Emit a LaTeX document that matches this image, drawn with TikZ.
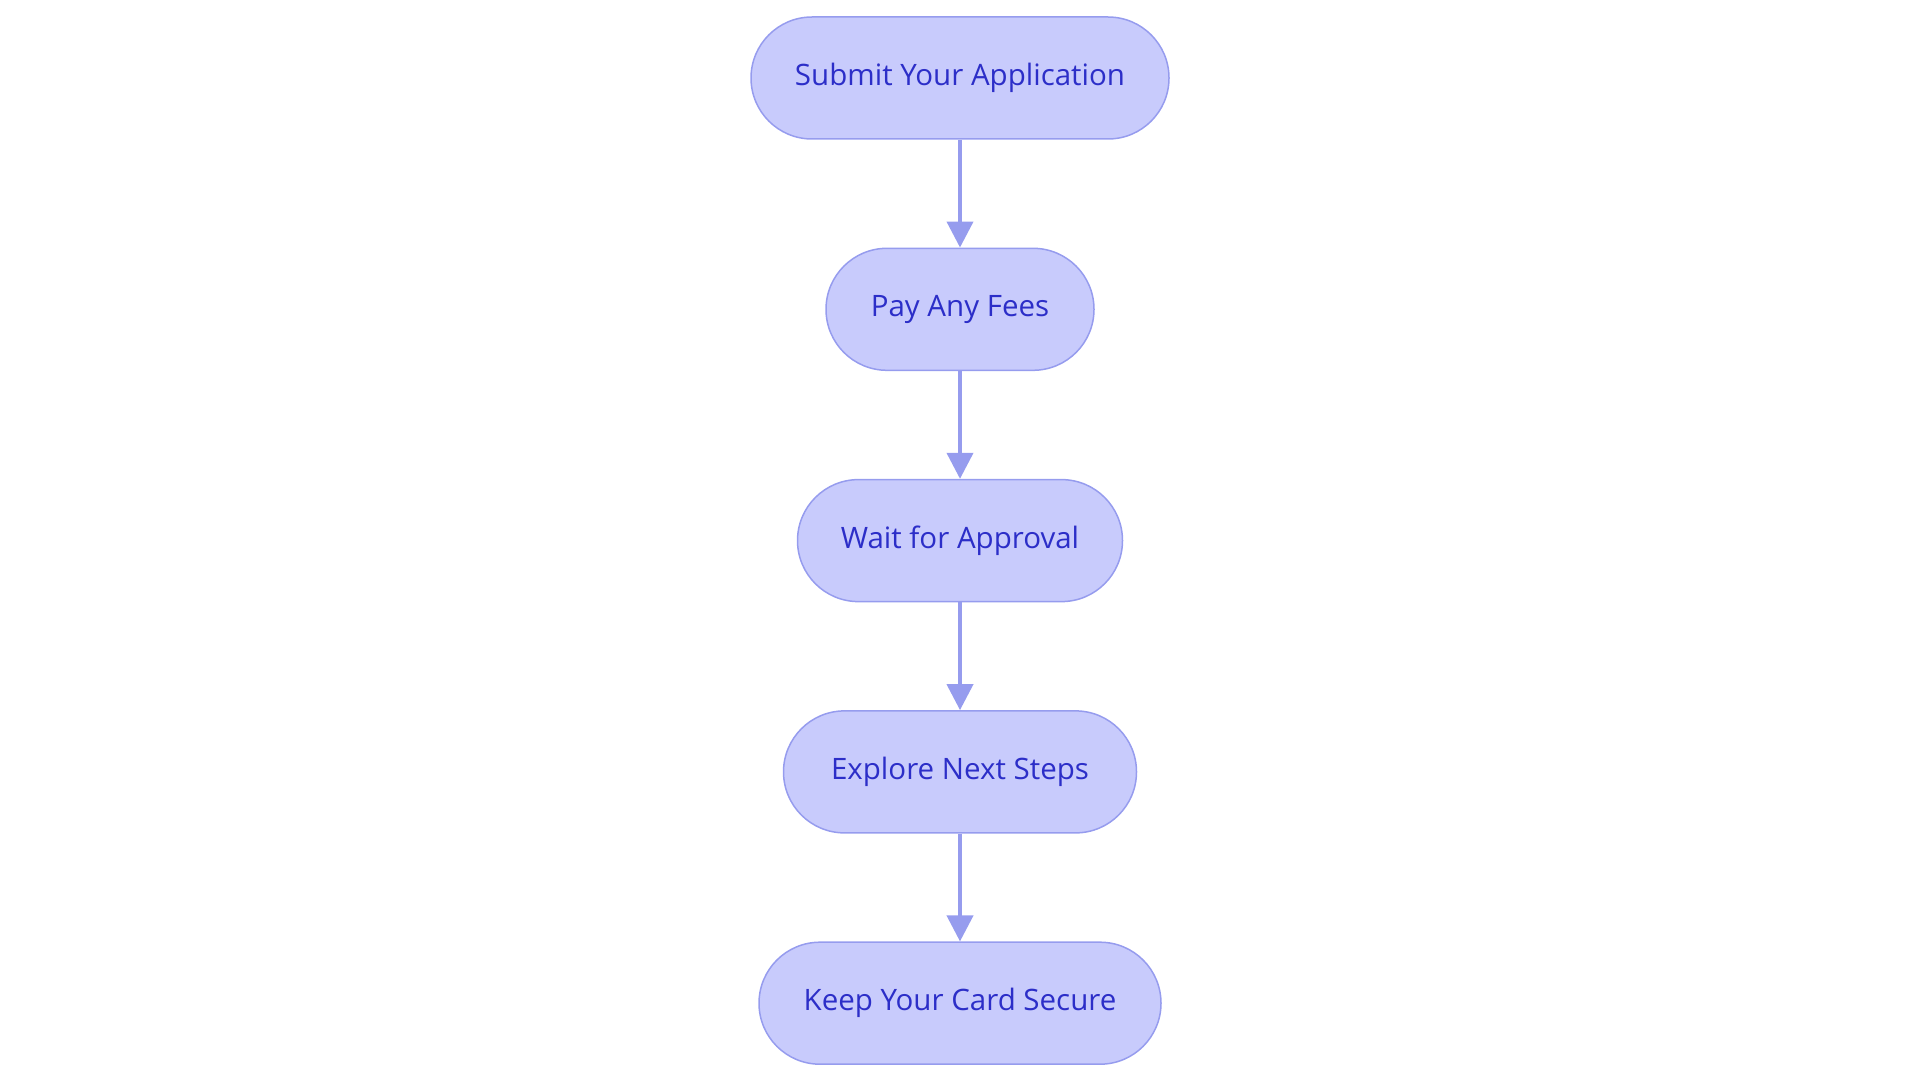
\documentclass[tikz,border=0pt]{standalone}
\usepackage{fontspec}
\setmainfont{Open Sans}
\usetikzlibrary{arrows.meta}
\usetikzlibrary{positioning}

\definecolor{stepfill}{RGB}{200,203,252}
\definecolor{stepline}{RGB}{150,156,238}
\definecolor{steptext}{RGB}{44,46,200}

\begin{document}
\begin{tikzpicture}[x=1pt,y=1pt,
    stepbox/.style={draw=stepline, line width=1.5pt, fill=stepfill, rounded corners=61pt,
      minimum height=122pt, inner sep=0pt, text=steptext, font=\fontsize{29.5}{34}\selectfont},
    node distance=107.8pt,
    flow/.style={-{Triangle[length=26pt,width=26pt]}, draw=stepline, line width=4pt}]
        \useasboundingbox (0,0) rectangle (1920,-1083);
        \node[stepbox, minimum width=418pt] (apply) at (960,-78) {Submit Your Application};
        \node[stepbox, minimum width=268pt, below=of apply] (fees) {Pay Any Fees};
        \node[stepbox, minimum width=325pt, below=of fees] (wait) {Wait for Approval};
        \node[stepbox, minimum width=353pt, below=of wait] (next) {Explore Next Steps};
        \node[stepbox, minimum width=402pt, below=of next] (secure) {Keep Your Card Secure};
        
        \path[flow] (apply) -- (fees);
        \path[flow] (fees) -- (wait);
        \path[flow] (wait) -- (next);
        \path[flow] (next) -- (secure);
    \end{tikzpicture}
\end{document}
